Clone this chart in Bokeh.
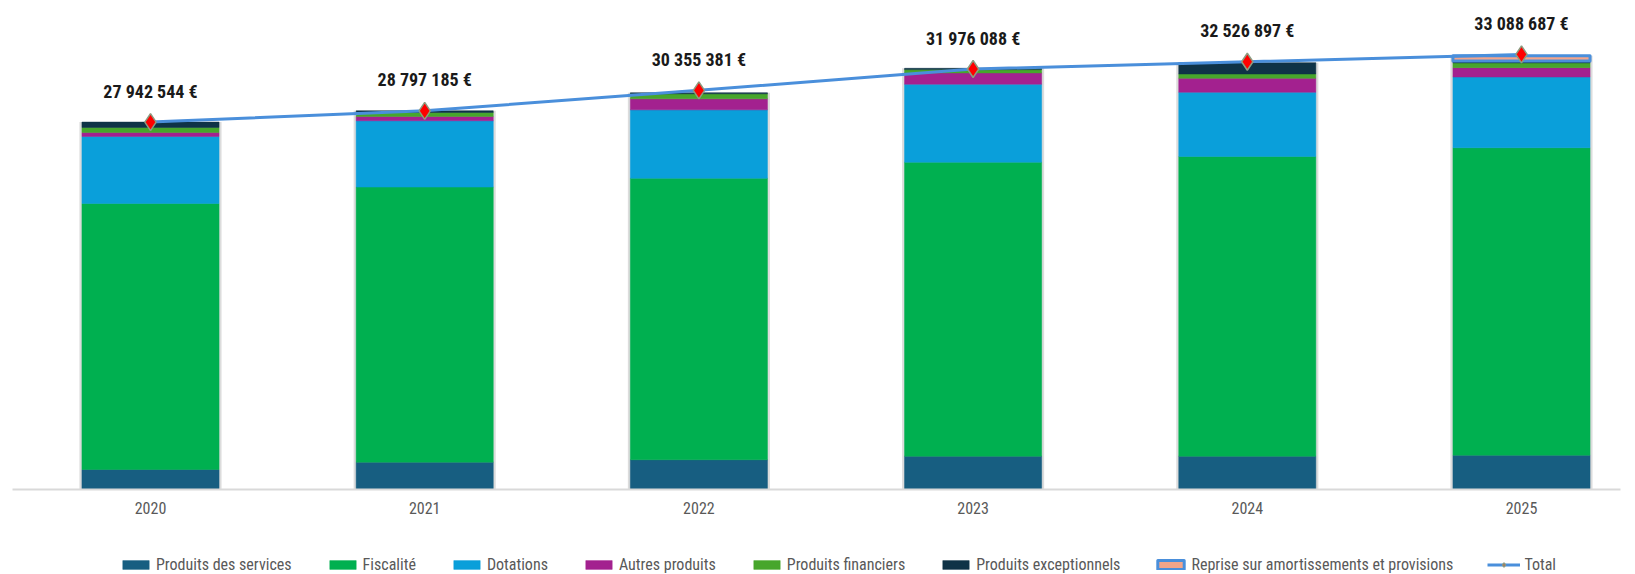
from bokeh.plotting import figure
from bokeh.models import ColumnDataSource, Range1d, Legend, LegendItem
from bokeh.core.properties import value
from bokeh.embed import file_html
from bokeh.resources import INLINE

# ---- data (values in millions of euros) ----
years = ["2020", "2021", "2022", "2023", "2024", "2025"]
produits_services = [1.52, 2.08, 2.26, 2.53, 2.53, 2.61]
fiscalite = [20.23, 20.92, 21.41, 22.36, 22.79, 23.38]
dotations = [5.10, 5.04, 5.20, 5.93, 4.89, 5.38]
autres_produits = [0.30, 0.33, 0.84, 0.86, 1.06, 0.71]
produits_financiers = [0.38, 0.30, 0.38, 0.25, 0.33, 0.36]
produits_exceptionnels = [0.41, 0.13, 0.08, 0.10, 0.86, 0.15]
reprise = [0.0, 0.0, 0.0, 0.0, 0.0, 0.40]
totals = [27942544, 28797185, 30355381, 31976088, 32526897, 33088687]

series_names = ["Produits des services", "Fiscalité", "Dotations", "Autres produits",
                "Produits financiers", "Produits exceptionnels",
                "Reprise sur amortissements et provisions"]
series_values = [produits_services, fiscalite, dotations, autres_produits,
                 produits_financiers, produits_exceptionnels, reprise]
series_colors = ["#175e81", "#00b050", "#0a9fda", "#a3218f", "#47a62c", "#0f3347", "#f4a58a"]

FONT = "'Liberation Sans Narrow', 'Arial Narrow', 'Roboto Condensed', sans-serif"

W, H = 1635, 574
x = list(range(len(years)))
PX_PER_UNIT = 274.2
PX_PER_M = 13.15
BASE_Y = 489
x_start = -150 / PX_PER_UNIT
x_end = x_start + W / PX_PER_UNIT
y_start = -(H - BASE_Y) / PX_PER_M
y_end = BASE_Y / PX_PER_M

p = figure(width=W, height=H, output_backend="svg", toolbar_location=None,
           x_range=Range1d(x_start, x_end), y_range=Range1d(y_start, y_end),
           x_axis_location=None, y_axis_location=None,
           min_border=0, min_border_left=0, min_border_right=0,
           min_border_top=0, min_border_bottom=0)
p.outline_line_color = None
p.xgrid.visible = False
p.ygrid.visible = False

# shadow behind bars
bar_sum = [sum(v[i] for v in series_values) for i in x]
p.vbar(x=x, bottom=0, top=bar_sum, width=0.5 + 5 / PX_PER_UNIT,
       fill_color="#9a9a9a", fill_alpha=0.35, line_color=None)

legend_items = []
bottoms = [0.0] * len(x)
for name, vals, col in zip(series_names, series_values, series_colors):
    tops = [b + v for b, v in zip(bottoms, vals)]
    idx = [i for i in x if vals[i] > 0]
    src = ColumnDataSource(dict(x=[x[i] for i in idx],
                                bottom=[bottoms[i] for i in idx],
                                top=[tops[i] for i in idx]))
    if name.startswith("Reprise"):
        r = p.vbar(x="x", bottom="bottom", top="top", width=0.5, source=src,
                   fill_color=col, line_color="#4a8fdb", line_width=3, line_join="round")
    else:
        r = p.vbar(x="x", bottom="bottom", top="top", width=0.5, source=src,
                   fill_color=col, line_color=col, line_width=0.5)
    legend_items.append(LegendItem(label=name, renderers=[r]))
    bottoms = tops

# category axis line and labels
p.segment(x0=[x_start + 12 / PX_PER_UNIT], y0=[0], x1=[x_end - 15 / PX_PER_UNIT], y1=[0],
          line_color="#d9d9d9", line_width=2)
p.text(x=x, y=[0] * len(x), text=years, text_align="center", text_baseline="middle",
       y_offset=18, text_font=value(FONT), text_font_size="16px", text_color="#595959")

# total line
tot_m = [t / 1e6 for t in totals]
labels = [f"{t:,}".replace(",", " ") + " €" for t in totals]
tsrc = ColumnDataSource(dict(x=x, y=tot_m, lbl=labels))
ln = p.line(x="x", y="y", source=tsrc, line_color="#4a8fdb", line_width=3)
sc = p.scatter(x="x", y="y", source=tsrc, marker="diamond", size=17,
               fill_color="#ff0000", line_color="#8c9c80", line_width=1.5)
legend_items.append(LegendItem(label="Total", renderers=[ln, sc]))

p.text(x="x", y="y", text="lbl", source=tsrc, text_align="center", text_baseline="middle",
       y_offset=-31, text_font=value(FONT), text_font_style="bold",
       text_font_size="18px", text_color="#1a1a1a")

legend = Legend(items=legend_items, orientation="horizontal", location=(119, 0),
                glyph_width=33, glyph_height=11, label_standoff=4, spacing=34,
                label_height=20, padding=0, margin=0, border_line_color=None,
                background_fill_alpha=0, label_text_font=FONT,
                label_text_font_size="16px", label_text_color="#595959")
p.add_layout(legend)

open("out.html", "w").write(file_html(p, INLINE))
